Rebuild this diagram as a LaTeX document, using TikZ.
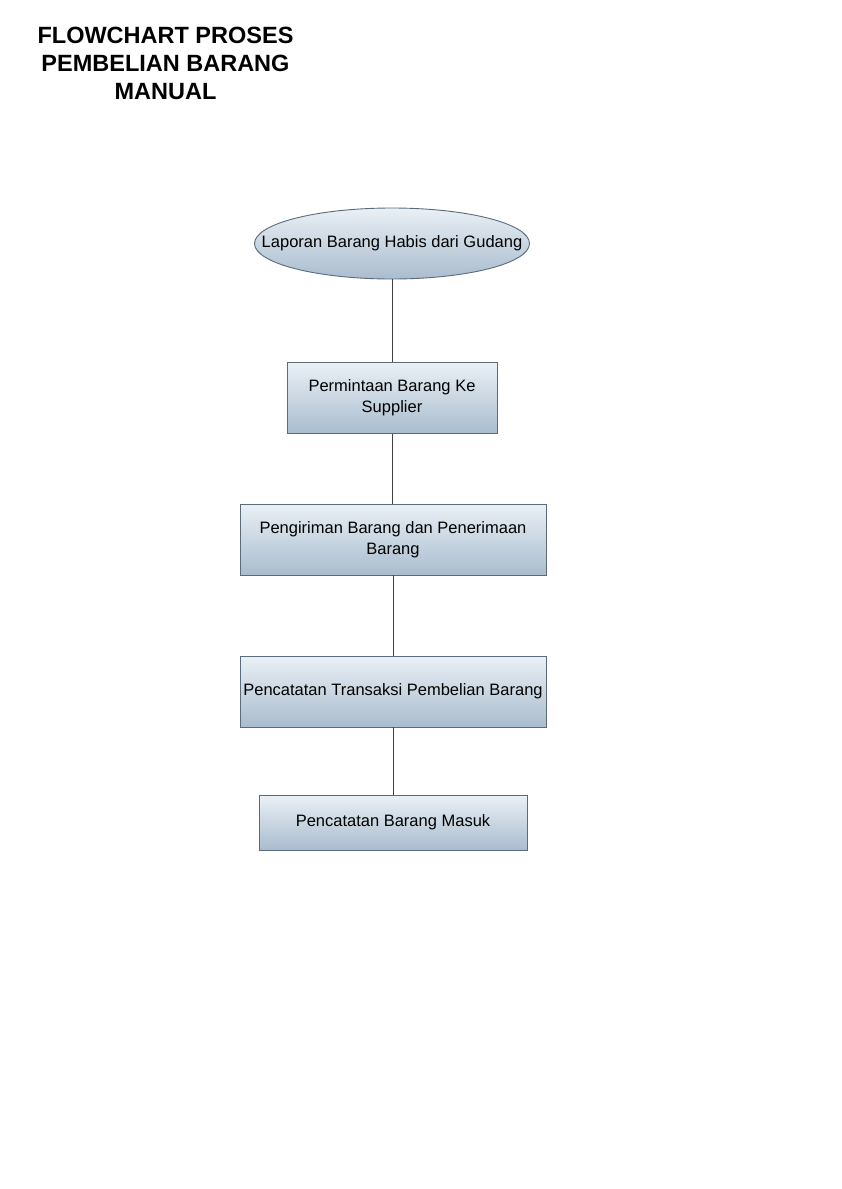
\documentclass[tikz,border=0pt]{standalone}
\usepackage{fontspec}
\setmainfont{Liberation Sans}
\usetikzlibrary{shapes.geometric}
\definecolor{boxtop}{HTML}{EAF0F6}
\definecolor{boxbot}{HTML}{A9BCCE}
\definecolor{boxline}{HTML}{5C6B7A}
\tikzset{
  stepbox/.style={draw=boxline,line width=0.9pt,top color=boxtop,bottom color=boxbot,
    minimum height=#1,inner sep=0pt,align=center,font=\fontsize{16.5}{21}\selectfont},
  stepbox/.default=71pt,
  startoval/.style={ellipse,draw=boxline,line width=0.9pt,top color=boxtop,bottom color=boxbot,
    minimum width=275pt,minimum height=71pt,inner xsep=-34pt,inner ysep=0pt,
    font=\fontsize{16.5}{21}\selectfont},
  flow/.style={draw=black!75,line width=0.8pt}
}
\begin{document}
\begin{tikzpicture}[x=1pt,y=-1pt]
      \useasboundingbox (0,0) rectangle (841,1189);
      \path
      (165.5,63) node(title) [align=center,font=\fontsize{23.5}{28}\selectfont\bfseries]
        {FLOWCHART PROSES\\PEMBELIAN BARANG\\MANUAL}
      (392,243.5) node(lapor) [startoval] {Laporan Barang Habis dari Gudang}
      (392,398) node(minta) [stepbox,minimum width=210pt] {Permintaan Barang Ke\\Supplier}
      (393,539.5) node(kirim) [stepbox,minimum width=306pt] {Pengiriman Barang dan Penerimaan\\Barang}
      (393,691.5) node(catat) [stepbox,minimum width=306pt] {Pencatatan Transaksi Pembelian Barang}
      (393,822.5) node(masuk) [stepbox=55pt,minimum width=268pt] {Pencatatan Barang Masuk}
      ;

      \draw[flow] (lapor) -- (minta);
      \draw[flow] (minta) -- (minta |- kirim.north);
      \draw[flow] (kirim) -- (catat);
      \draw[flow] (catat) -- (masuk);
    \end{tikzpicture}
\end{document}
